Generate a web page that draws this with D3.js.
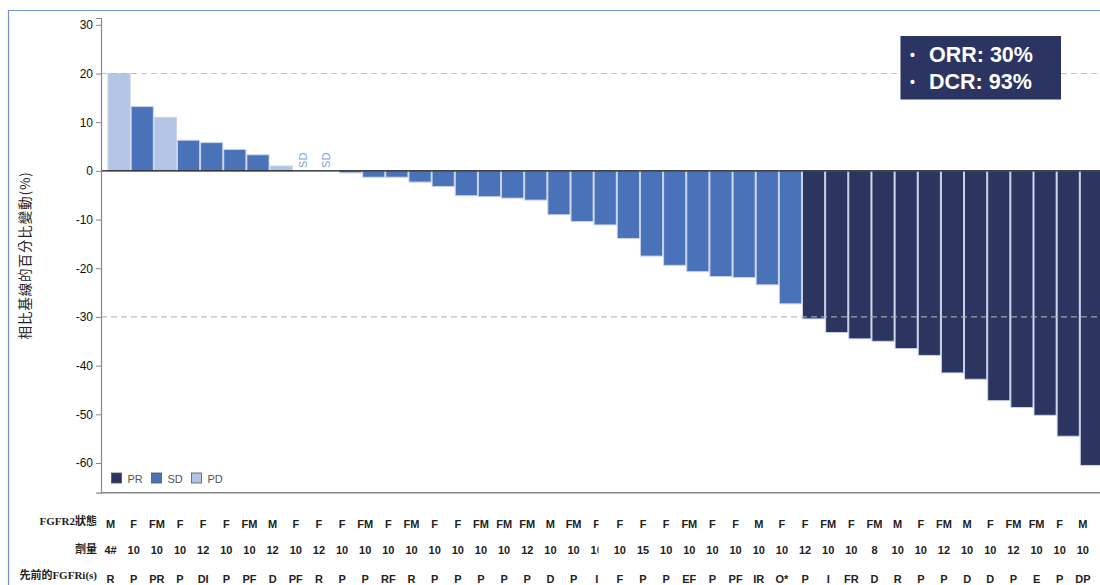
<!DOCTYPE html>
<html>
<head>
<meta charset="utf-8">
<script src="https://cdn.jsdelivr.net/npm/d3@7"></script>
<style>
  html, body { margin: 0; padding: 0; background: #fff; }
  svg { display: block; }
</style>
</head>
<body>
<svg id="chart" width="1100" height="585"></svg>
<script>
// Best percentage change from baseline, one bar per patient (sorted)
const changes = [20, 13.2, 11.0, 6.3, 5.8, 4.4, 3.3, 1.0, 0, 0,
  -0.4, -1.3, -1.3, -2.3, -3.2, -5.1, -5.3, -5.6, -6.0, -9.0,
  -10.4, -11.1, -13.9, -17.5, -19.4, -20.7, -21.7, -21.9, -23.4, -27.3,
  -30.4, -33.2, -34.5, -35.0, -36.5, -37.9, -41.5, -42.8, -47.2, -48.6,
  -50.2, -54.5, -60.5];

// Best overall response per patient
const responses = ["PD","SD","PD","SD","SD","SD","SD","PD","SD","SD",
  "SD","SD","SD","SD","SD","SD","SD","SD","SD","SD",
  "SD","SD","SD","SD","SD","SD","SD","SD","SD","SD",
  "PR","PR","PR","PR","PR","PR","PR","PR","PR","PR",
  "PR","PR","PR"];

// Annotation rows under the plot
const fgfr2Status = ["M","F","FM","F","F","F","FM","M","F","F",
  "F","FM","F","FM","F","F","FM","FM","FM","M",
  "FM","F","F","F","F","FM","F","F","M","F",
  "F","FM","F","FM","M","F","FM","M","F","FM",
  "FM","F","M"];
const doses = ["4#","10","10","10","12","10","10","12","10","12",
  "10","10","10","10","10","10","10","10","12","10",
  "10","10","10","15","10","10","10","10","10","10",
  "12","10","10","8","10","10","12","10","10","12",
  "10","10","10"];
const priorFGFRi = ["R","P","PR","P","DI","P","PF","D","PF","R",
  "P","P","RF","R","P","P","P","P","P","D",
  "P","I","F","P","P","EF","P","PF","IR","O*",
  "P","I","FR","D","R","P","P","D","D","P",
  "E","P","DP"];

const rowLabels = ["FGFR2狀態", "劑量", "先前的FGFRi(s)"];
const yTicks = [30, 20, 10, 0, -10, -20, -30, -40, -50, -60];
const refLines = [20, -30];
const legendKeys = ["PR", "SD", "PD"];
const summaryLines = ["ORR: 30%", "DCR: 93%"];
const yTitle = "相比基線的百分比變動(%)";

const colors = { PR: "#2b3560", SD: "#4a72b8", PD: "#b4c4e5" };

const svg = d3.select("#chart");
const sans = "Arial, 'Liberation Sans', sans-serif";

// outer frame (top and left edges)
svg.append("path")
  .attr("d", "M8.5,585 L8.5,10.5 L1100,10.5")
  .attr("fill", "none")
  .attr("stroke", "#7393c9")
  .attr("stroke-width", 1.2);

const x = d3.scaleBand()
  .domain(d3.range(changes.length))
  .range([107.5, 107.5 + changes.length * 23.15])
  .padding(0);

const y = d3.scaleLinear()
  .domain([-66.1, 31.4])
  .range([492.7, 18]);

const axisX = 101;

// bars
svg.append("g")
  .selectAll("rect")
  .data(changes)
  .join("rect")
  .attr("x", (d, i) => x(i) + 0.5)
  .attr("width", x.bandwidth() - 1)
  .attr("y", d => Math.min(y(d), y(0)))
  .attr("height", d => Math.abs(y(d) - y(0)))
  .attr("fill", (d, i) => colors[responses[i]])
  .attr("stroke", "#c9d2ea")
  .attr("stroke-width", 1);

// "SD" markers on bars with no change
svg.append("g")
  .selectAll("text")
  .data(changes.map((d, i) => ({ d, i })).filter(o => o.d === 0))
  .join("text")
  .attr("transform", o => `translate(${x(o.i) + x.bandwidth() / 2},${y(0) - 3}) rotate(-90)`)
  .attr("dominant-baseline", "middle")
  .attr("font-family", sans)
  .attr("font-size", 11)
  .attr("fill", "#7f9fd6")
  .text(o => responses[o.i]);

// dashed reference lines
svg.append("g")
  .selectAll("line")
  .data(refLines)
  .join("line")
  .attr("x1", axisX)
  .attr("x2", 1100)
  .attr("y1", d => y(d))
  .attr("y2", d => y(d))
  .attr("stroke", "#b5b5b5")
  .attr("stroke-opacity", 0.85)
  .attr("stroke-width", 1.2)
  .attr("stroke-dasharray", "6,4");

// zero line
svg.append("line")
  .attr("x1", axisX)
  .attr("x2", 1100)
  .attr("y1", y(0))
  .attr("y2", y(0))
  .attr("stroke", "#111")
  .attr("stroke-width", 1.2);

// y axis (plain hyphen for negative values)
const yAxis = d3.axisLeft(y)
  .tickValues(yTicks)
  .tickSize(5)
  .tickPadding(3)
  .tickFormat(d => String(d));

const gy = svg.append("g")
  .attr("transform", `translate(${axisX},0)`)
  .call(yAxis);
gy.select(".domain").attr("stroke", "#888").attr("stroke-width", 1.2);
gy.selectAll(".tick line").attr("stroke", "#888");
gy.selectAll(".tick text")
  .attr("font-family", sans)
  .attr("font-size", 12)
  .attr("fill", "#111");

// bottom frame line
svg.append("line")
  .attr("x1", axisX)
  .attr("x2", 1100)
  .attr("y1", 492.7)
  .attr("y2", 492.7)
  .attr("stroke", "#888")
  .attr("stroke-width", 1.5);

// y axis title
svg.append("text")
  .attr("transform", `translate(30,${(18 + 492.7) / 2}) rotate(-90)`)
  .attr("text-anchor", "middle")
  .attr("font-family", "'Noto Sans CJK TC', 'Noto Sans CJK SC', sans-serif")
  .attr("font-size", 13.5)
  .attr("letter-spacing", 0.9)
  .attr("fill", "#222")
  .text(yTitle);

// legend
const legend = svg.append("g").attr("transform", "translate(111.5,473)");
const lg = legend.selectAll("g")
  .data(legendKeys)
  .join("g")
  .attr("transform", (d, i) => `translate(${i * 40},0)`);
lg.append("rect")
  .attr("width", 10)
  .attr("height", 10)
  .attr("fill", d => colors[d])
  .attr("stroke", "#555")
  .attr("stroke-width", 0.8);
lg.append("text")
  .attr("x", 16)
  .attr("y", 9.5)
  .attr("font-family", sans)
  .attr("font-size", 11)
  .attr("fill", "#555")
  .text(d => d);

// summary box
const box = svg.append("g");
box.append("rect")
  .attr("x", 900.5)
  .attr("y", 36)
  .attr("width", 160.5)
  .attr("height", 63.5)
  .attr("fill", "#2c3561");
box.selectAll("text")
  .data(summaryLines)
  .join("text")
  .attr("x", 910)
  .attr("y", (d, i) => 62 + i * 26.5)
  .attr("font-family", sans)
  .attr("font-weight", "bold")
  .attr("font-size", 21.5)
  .attr("fill", "#fff")
  .call(t => {
    t.append("tspan").attr("font-size", 14).attr("dy", -2).text("•");
    t.append("tspan").attr("x", 929).attr("dy", 2).text(d => d);
  });

// annotation table beneath the plot
const rows = [fgfr2Status, doses, priorFGFRi];
const rowBaselines = [528, 554, 583];
const labelBaselines = [525, 553, 579];
const labelShift = -8.5;

// column 22 is partially hidden in the table
svg.append("defs").append("clipPath")
  .attr("id", "col-cut")
  .append("rect")
  .attr("x", x(21) + x.bandwidth() / 2 + labelShift - 12)
  .attr("y", 500)
  .attr("width", 13.8)
  .attr("height", 85);

svg.append("g")
  .selectAll("text")
  .data(rowLabels)
  .join("text")
  .attr("x", 97)
  .attr("y", (d, i) => labelBaselines[i])
  .attr("text-anchor", "end")
  .attr("font-family", "'Liberation Serif', 'Times New Roman', 'Noto Sans CJK TC', serif")
  .attr("font-weight", "bold")
  .attr("font-size", 11)
  .attr("fill", "#222")
  .text(d => d);

rows.forEach((row, r) => {
  svg.append("g")
    .selectAll("text")
    .data(row)
    .join("text")
    .attr("x", (d, i) => x(i) + x.bandwidth() / 2 + labelShift)
    .attr("y", rowBaselines[r])
    .attr("text-anchor", "middle")
    .attr("font-family", sans)
    .attr("font-weight", "bold")
    .attr("font-size", 11)
    .attr("fill", "#222")
    .attr("clip-path", (d, i) => i === 21 ? "url(#col-cut)" : null)
    .text(d => d);
});
</script>
</body>
</html>
